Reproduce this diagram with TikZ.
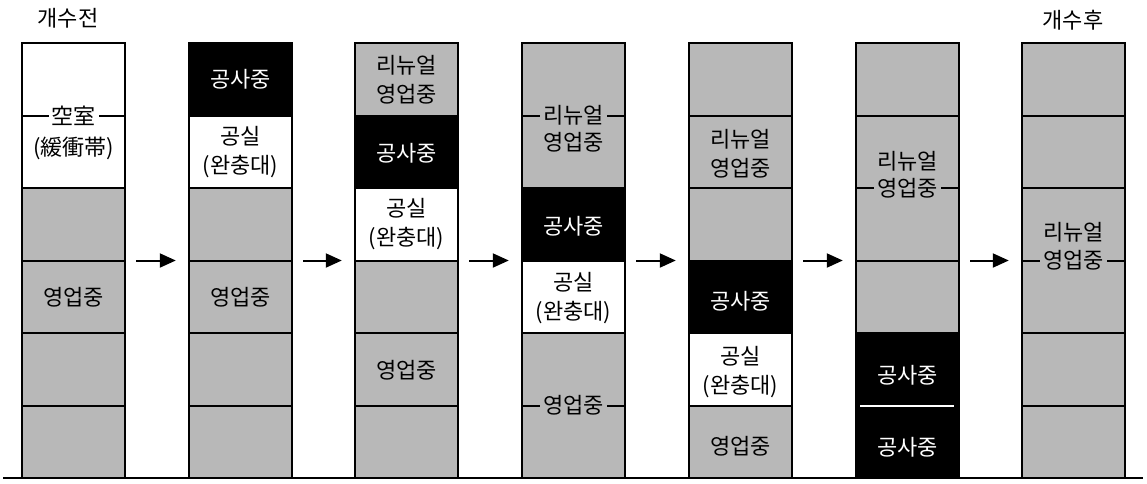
\documentclass[tikz,border=0pt]{standalone}
\usepackage{fontspec}
\setmainfont{Noto Sans CJK KR}
\usetikzlibrary{arrows.meta}
\definecolor{stipplegray}{gray}{0.72}

\tikzset{
    tower/.style={draw, line width=1.2pt, minimum width=51.5pt, minimum height=217.5pt, inner sep=0pt},
    flr/.style={line width=1pt},
    lbl/.style={font=\fontsize{11}{14.5}\selectfont, align=center, inner sep=1.5pt},
    onw/.style={lbl, fill=white},
    ong/.style={lbl, fill=stipplegray},
    inb/.style={lbl, text=white},
    arr/.style={-{Triangle[length=8pt,width=7pt]}, line width=1pt, shorten <=5pt, shorten >=6pt}
}

\begin{document}
\begin{tikzpicture}[x=0.5pt, y=-0.5pt]
    \useasboundingbox (0,0) rectangle (1147,483);

    % floors
    \foreach \l in {22,189,355,522,689,856,1022}
        \fill[stipplegray] (\l,43) rectangle ++(103,435);
    \fill[white] (22,43) rectangle (125,188);
    \fill[black] (189,43) rectangle (292,115.5);
    \fill[white] (189,115.5) rectangle (292,188);
    \fill[black] (355,115.5) rectangle (458,188);
    \fill[white] (355,188) rectangle (458,260.5);
    \fill[black] (522,188) rectangle (625,260.5);
    \fill[white] (522,260.5) rectangle (625,333);
    \fill[black] (689,260.5) rectangle (792,333);
    \fill[white] (689,333) rectangle (792,405.5);
    \fill[black] (856,333) rectangle (959,478);

    \foreach \l in {22,189,355,522,689,856,1022}
        \foreach \y in {115.5,188,260.5,333,405.5}
            \draw[flr] (\l,\y) -- ++(103,0);
    \draw[flr, white] (860,405.5) -- (954,405.5);

    % labels
    \node[onw] (t1a) at (73.5,115.5) {空室};
    \node[lbl] (t1b) at (73.5,148) {(緩衝帯)};
    \node[lbl] (t1c) at (73.5,297) {영업중};

    \node[inb] (t2a) at (240.5,79) {공사중};
    \node[lbl] (t2b) at (240.5,152) {공실\\(완충대)};
    \node[lbl] (t2c) at (240.5,297) {영업중};

    \node[lbl] (t3a) at (406.5,80) {리뉴얼\\영업중};
    \node[inb] (t3b) at (406.5,153) {공사중};
    \node[lbl] (t3c) at (406.5,224) {공실\\(완충대)};
    \node[lbl] (t3d) at (406.5,370) {영업중};

    \node[ong] (t4a) at (573.5,115.5) {리뉴얼};
    \node[lbl] (t4b) at (573.5,142) {영업중};
    \node[inb] (t4c) at (573.5,226) {공사중};
    \node[lbl] (t4d) at (573.5,298) {공실\\(완충대)};
    \node[ong] (t4e) at (573.5,405.5) {영업중};

    \node[lbl] (t5a) at (740.5,154) {리뉴얼\\영업중};
    \node[inb] (t5b) at (740.5,301) {공사중};
    \node[lbl] (t5c) at (740.5,372) {공실\\(완충대)};
    \node[lbl] (t5d) at (740.5,446) {영업중};

    \node[lbl] (t6a) at (907.5,161) {리뉴얼};
    \node[ong] (t6b) at (907.5,188) {영업중};
    \node[inb] (t6c) at (907.5,375) {공사중};
    \node[inb] (t6d) at (907.5,447) {공사중};

    \node[lbl] (t7a) at (1073.5,232) {리뉴얼};
    \node[ong] (t7b) at (1073.5,260.5) {영업중};

    % towers
    \node[tower] (c1) at (73.5,260.5) {};
    \node[tower] (c2) at (240.5,260.5) {};
    \node[tower] (c3) at (406.5,260.5) {};
    \node[tower] (c4) at (573.5,260.5) {};
    \node[tower] (c5) at (740.5,260.5) {};
    \node[tower] (c6) at (907.5,260.5) {};
    \node[tower] (c7) at (1073.5,260.5) {};

    \node[lbl] (before) at (68,18) {개수전};
    \node[lbl] (after) at (1073,20) {개수후};

    \draw[arr] (c1) -- (c2);
    \draw[arr] (c2) -- (c3);
    \draw[arr] (c3) -- (c4);
    \draw[arr] (c4) -- (c5);
    \draw[arr] (c5) -- (c6);
    \draw[arr] (c6) -- (c7);

    \draw[line width=1.2pt] (3,478) -- (1143,478);
\end{tikzpicture}
\end{document}
